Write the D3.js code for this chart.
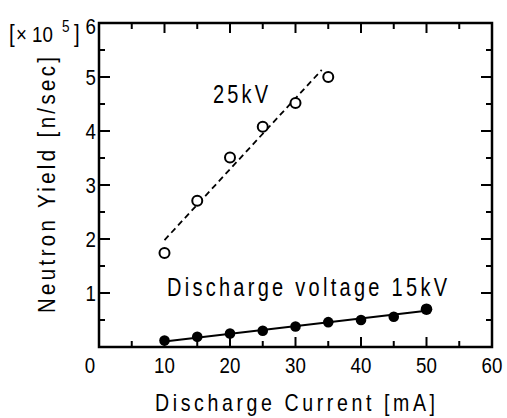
<!DOCTYPE html>
<html><head><meta charset="utf-8">
<script src="https://cdn.jsdelivr.net/npm/d3@7"></script>
<style>
body{margin:0;background:#fff;}
svg text{font-family:"Liberation Sans",Arial,sans-serif;fill:#000;}
</style></head>
<body><svg id="c" width="507" height="418"></svg>
<script>
const current15 = [10,15,20,25,30,35,40,45,50];
const yield15 = [0.12,0.19,0.25,0.30,0.38,0.46,0.50,0.56,0.70];
const fit15 = [[10,0.10],[50,0.67]];
const current25 = [10,15,20,25,30,35];
const yield25 = [1.74,2.71,3.51,4.08,4.52,5.00];
const fit25 = [[10,1.98],[34,5.13]];
const xTicks = [0,10,20,30,40,50,60];
const yTicks = [1,2,3,4,5,6];

const svg = d3.select("#c");
const L=99,R=492,T=23,B=347;
const x = d3.scaleLinear().domain([0,60]).range([L,R]);
const y = d3.scaleLinear().domain([0,6]).range([B,T]);
const g = svg.append("g");

function ntext(tx,ty,str,size,sx,opts){
  opts=opts||{};
  const t = g.append("text")
    .attr("transform",`translate(${tx},${ty})`+(opts.rot?` rotate(${opts.rot})`:"")+` scale(${sx},1)`)
    .attr("font-size",size).attr("text-anchor",opts.anchor||"start");
  if(opts.len){t.attr("textLength",opts.len/sx).attr("lengthAdjust","spacing");}
  t.text(str);
  return t;
}

// frame
g.append("rect").attr("x",L).attr("y",T).attr("width",R-L).attr("height",B-T)
 .attr("fill","none").attr("stroke","#000").attr("stroke-width",2.5);

const minorX = d3.range(5,60,5);
const minorY = d3.range(0.5,6,0.5);
minorX.forEach(v=>{
  const major = v%10===0, len = major?10:6;
  g.append("line").attr("x1",x(v)).attr("x2",x(v)).attr("y1",B).attr("y2",B-len).attr("stroke","#000").attr("stroke-width",2);
  g.append("line").attr("x1",x(v)).attr("x2",x(v)).attr("y1",T).attr("y2",T+len).attr("stroke","#000").attr("stroke-width",2);
});
minorY.forEach(v=>{
  const major = Math.abs(v-Math.round(v))<1e-9, len = major?11:6;
  g.append("line").attr("y1",y(v)).attr("y2",y(v)).attr("x1",L).attr("x2",L+len).attr("stroke","#000").attr("stroke-width",2);
  g.append("line").attr("y1",y(v)).attr("y2",y(v)).attr("x1",R).attr("x2",R-len).attr("stroke","#000").attr("stroke-width",2);
});

// tick labels
xTicks.forEach(d=>ntext(d===0?x(d)-9:x(d),373,String(d),22,0.85,{anchor:"middle"}));
yTicks.forEach(d=>ntext(L-3,y(d)+(d===6?11:8),String(d),22,0.85,{anchor:"end"}));

// multiplier
const sxm = 0.85;
const m = ntext(0,42,"",22,sxm,{});
m.append("tspan").attr("x",9/sxm).attr("font-size",24).text("[");
m.append("tspan").attr("x",16/sxm).text("\u00d7");
m.append("tspan").attr("x",32/sxm).text("10");
m.append("tspan").attr("x",62/sxm).attr("dy",-10).attr("font-size",16).text("5");
m.append("tspan").attr("x",74/sxm).attr("dy",10).attr("font-size",24).text("]");

// titles
ntext(155,411,"Discharge Current [mA]",23,0.85,{len:280});
ntext(55,313,"Neutron Yield [n/sec]",24,0.85,{rot:-90,len:256});

// annotations
ntext(213,103,"25kV",25,0.8,{len:55});
ntext(167,296,"Discharge voltage 15kV",25,0.8,{len:280});

// lines
const line = d3.line().x(d=>x(d[0])).y(d=>y(d[1]));
g.append("path").attr("d",line(fit25)).attr("fill","none").attr("stroke","#000")
 .attr("stroke-width",1.8).attr("stroke-dasharray","6,4");
g.append("path").attr("d",line(fit15)).attr("fill","none").attr("stroke","#000")
 .attr("stroke-width",2);

// points
g.selectAll(".p25").data(current25.map((c,i)=>[c,yield25[i]])).enter().append("circle")
 .attr("cx",d=>x(d[0])).attr("cy",d=>y(d[1])).attr("r",5)
 .attr("fill","#fff").attr("stroke","#000").attr("stroke-width",2);
g.selectAll(".p15").data(current15.map((c,i)=>[c,yield15[i]])).enter().append("circle")
 .attr("cx",d=>x(d[0])).attr("cy",d=>y(d[1])).attr("r",d=>d[0]===50?5.8:5.3)
 .attr("fill","#000");
</script></body></html>
